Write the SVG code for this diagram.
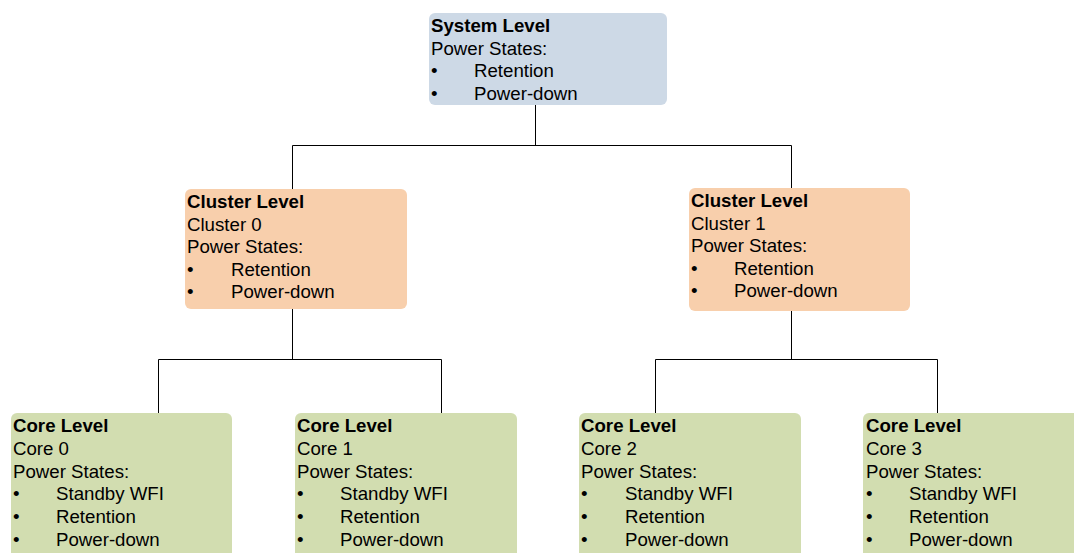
<svg xmlns="http://www.w3.org/2000/svg" width="1074" height="553" viewBox="0 0 1074 553">
<style>
text{font-family:"Liberation Sans",Arial,sans-serif;font-size:18.67px;fill:#000}
.b{font-weight:bold}
.sys{fill:#cdd9e6}
.clu{fill:#f8cfac}
.core{fill:#d2ddb0}
.conn{fill:none;stroke:#000;stroke-width:1}
</style>
<rect width="1074" height="553" fill="#fff"/>
<g id="connectors">
<path class="conn" d="M535.5 105V145.5M292.5 189V145.5H791.5V189"/>
<path class="conn" d="M292.5 309V359.5M158.5 413V359.5H441.5V413"/>
<path class="conn" d="M791.5 311V359.5M655.5 413V359.5H937.5V413"/>
</g>
<g id="system">
<rect class="sys" x="429" y="13" width="238" height="92" rx="6"/>
<text x="431" y="32" class="b">System Level</text>
<text x="431" y="54.6">Power States:</text>
<text x="431" y="77.2">•</text><text x="474" y="77.2">Retention</text>
<text x="431" y="99.8">•</text><text x="474" y="99.8">Power-down</text>
</g>
<g id="cluster0">
<rect class="clu" x="185" y="189" width="222" height="120" rx="6"/>
<text x="187" y="208" class="b">Cluster Level</text>
<text x="187" y="230.6">Cluster 0</text>
<text x="187" y="253.2">Power States:</text>
<text x="187" y="275.8">•</text><text x="231" y="275.8">Retention</text>
<text x="187" y="298.4">•</text><text x="231" y="298.4">Power-down</text>
</g>
<g id="cluster1">
<rect class="clu" x="689" y="188" width="221" height="123" rx="6"/>
<text x="691" y="207" class="b">Cluster Level</text>
<text x="691" y="229.6">Cluster 1</text>
<text x="691" y="252.2">Power States:</text>
<text x="691" y="274.8">•</text><text x="734" y="274.8">Retention</text>
<text x="691" y="297.4">•</text><text x="734" y="297.4">Power-down</text>
</g>
<g id="core0">
<rect class="core" x="11" y="413" width="221" height="150" rx="6"/>
<text x="13" y="432" class="b">Core Level</text>
<text x="13" y="454.8">Core 0</text>
<text x="13" y="477.6">Power States:</text>
<text x="13" y="500.4">•</text><text x="56" y="500.4">Standby WFI</text>
<text x="13" y="523.2">•</text><text x="56" y="523.2">Retention</text>
<text x="13" y="546">•</text><text x="56" y="546">Power-down</text>
</g>
<g id="core1">
<rect class="core" x="295" y="413" width="222" height="150" rx="6"/>
<text x="297" y="432" class="b">Core Level</text>
<text x="297" y="454.8">Core 1</text>
<text x="297" y="477.6">Power States:</text>
<text x="297" y="500.4">•</text><text x="340" y="500.4">Standby WFI</text>
<text x="297" y="523.2">•</text><text x="340" y="523.2">Retention</text>
<text x="297" y="546">•</text><text x="340" y="546">Power-down</text>
</g>
<g id="core2">
<rect class="core" x="579" y="413" width="222" height="150" rx="6"/>
<text x="581" y="432" class="b">Core Level</text>
<text x="581" y="454.8">Core 2</text>
<text x="581" y="477.6">Power States:</text>
<text x="581" y="500.4">•</text><text x="625" y="500.4">Standby WFI</text>
<text x="581" y="523.2">•</text><text x="625" y="523.2">Retention</text>
<text x="581" y="546">•</text><text x="625" y="546">Power-down</text>
</g>
<g id="core3">
<rect class="core" x="863" y="413" width="222" height="150" rx="6"/>
<text x="866" y="432" class="b">Core Level</text>
<text x="866" y="454.8">Core 3</text>
<text x="866" y="477.6">Power States:</text>
<text x="866" y="500.4">•</text><text x="909" y="500.4">Standby WFI</text>
<text x="866" y="523.2">•</text><text x="909" y="523.2">Retention</text>
<text x="866" y="546">•</text><text x="909" y="546">Power-down</text>
</g>
</svg>
